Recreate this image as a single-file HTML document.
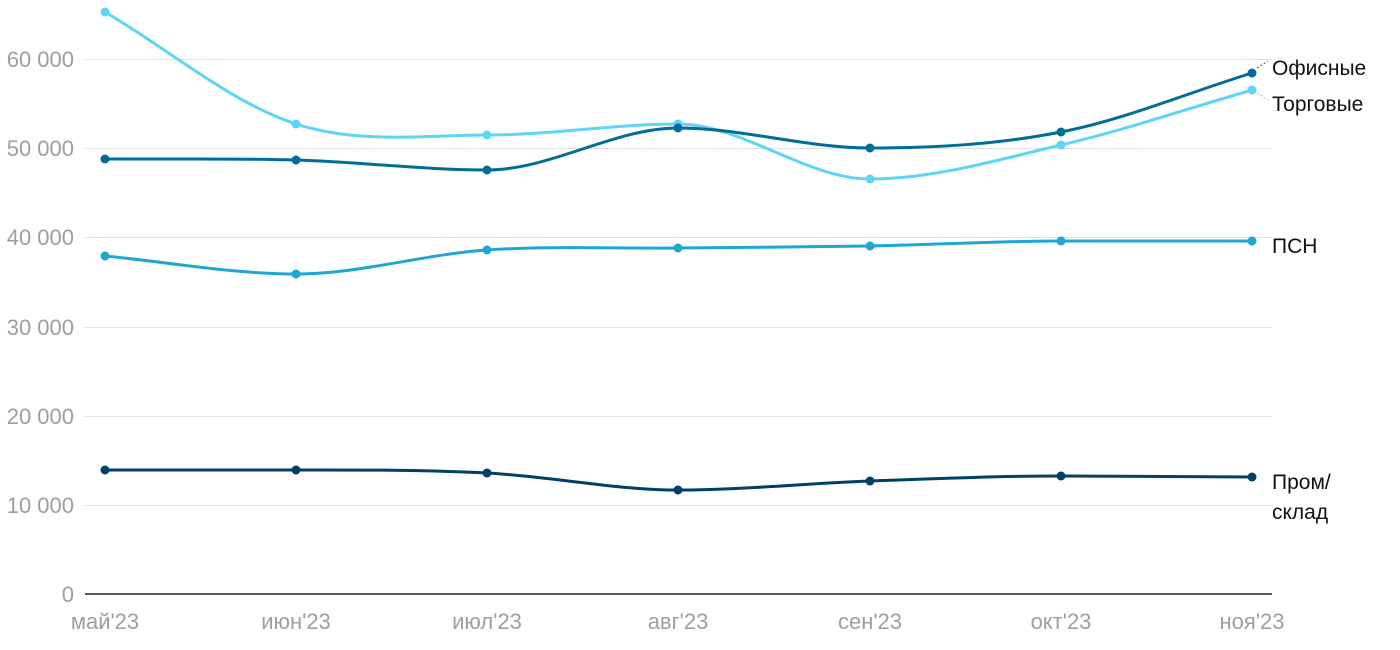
<!DOCTYPE html>
<html><head><meta charset="utf-8">
<style>
html,body{margin:0;padding:0;background:#fff;width:1400px;height:650px;overflow:hidden}
svg text{font-family:"Liberation Sans",sans-serif}
</style></head><body>
<svg id="s" width="1400" height="650" xmlns="http://www.w3.org/2000/svg">
<g stroke="#e0e0e0" stroke-width="1">
<line x1="85" x2="1272" y1="59.5" y2="59.5"/>
<line x1="85" x2="1272" y1="148.5" y2="148.5"/>
<line x1="85" x2="1272" y1="237.5" y2="237.5"/>
<line x1="85" x2="1272" y1="327.5" y2="327.5"/>
<line x1="85" x2="1272" y1="416.5" y2="416.5"/>
<line x1="85" x2="1272" y1="505.5" y2="505.5"/>
</g>
<line x1="85" x2="1272" y1="594" y2="594" stroke="#222" stroke-width="1.5"/>
<g fill="#9e9e9e" font-size="22" text-anchor="end">
<text x="74" y="67">60 000</text>
<text x="74" y="156">50 000</text>
<text x="74" y="245">40 000</text>
<text x="74" y="335">30 000</text>
<text x="74" y="424">20 000</text>
<text x="74" y="513">10 000</text>
<text x="74" y="602">0</text>
</g>
<g fill="#9e9e9e" font-size="22" text-anchor="middle">
<text x="105" y="629">май'23</text>
<text x="296" y="629">июн'23</text>
<text x="487" y="629">июл'23</text>
<text x="678" y="629">авг'23</text>
<text x="870" y="629">сен'23</text>
<text x="1061" y="629">окт'23</text>
<text x="1252" y="629">ноя'23</text>
</g>
<g id="series"></g>
<g fill="#111" font-size="21">
<text x="1272" y="75">Офисные</text>
<text x="1272" y="111">Торговые</text>
<text x="1272" y="253">ПСН</text>
<text x="1272" y="489">Пром/</text>
<text x="1272" y="519">склад</text>
</g>
<line x1="1257" y1="68" x2="1268" y2="61" stroke="#006d99" stroke-width="1" stroke-dasharray="2,2"/>
<line x1="1257" y1="93" x2="1268" y2="100" stroke="#5fd4f7" stroke-width="1" stroke-dasharray="2,2"/>
</svg>
<script>
var xs=[105,296,487,678,870,1061,1252];
var S=[
{c:"#5fd4f7",y:[12,124,135,124,179,145,90]},
{c:"#006d99",y:[159,160,170,128,148,132,73]},
{c:"#1ea6d4",y:[256,274,250,248,246,241,241]},
{c:"#003f66",y:[470,470,473,490,481,476,477]}
];
var g=document.getElementById("series"),ns="http://www.w3.org/2000/svg";
S.forEach(function(s){
 var y=s.y,n=y.length,d=[],m=[],h=xs[1]-xs[0];
 for(var i=0;i<n-1;i++)d.push((y[i+1]-y[i])/h);
 m[0]=d[0];m[n-1]=d[n-2];
 for(var i=1;i<n-1;i++){m[i]=(d[i-1]*d[i]<=0)?0:(d[i-1]+d[i])/2;}
 var p="M"+xs[0]+","+y[0];
 for(var i=0;i<n-1;i++){
  p+=" C"+(xs[i]+h/3)+","+(y[i]+m[i]*h/3)+" "+(xs[i+1]-h/3)+","+(y[i+1]-m[i+1]*h/3)+" "+xs[i+1]+","+y[i+1];
 }
 var e=document.createElementNS(ns,"path");
 e.setAttribute("d",p);e.setAttribute("fill","none");e.setAttribute("stroke",s.c);e.setAttribute("stroke-width","3");
 g.appendChild(e);
 for(var i=0;i<n;i++){var c=document.createElementNS(ns,"circle");c.setAttribute("cx",xs[i]);c.setAttribute("cy",y[i]);c.setAttribute("r","4.5");c.setAttribute("fill",s.c);g.appendChild(c);}
});
</script>
</body></html>
